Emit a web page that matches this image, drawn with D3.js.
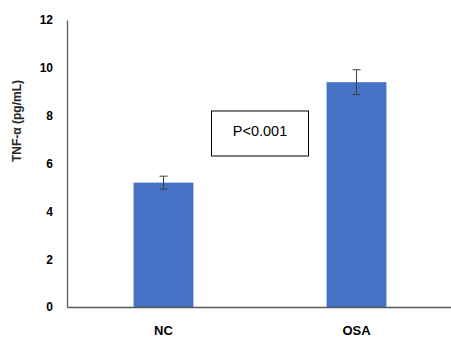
<!DOCTYPE html>
<html>
<head>
<meta charset="utf-8">
<script src="https://cdn.jsdelivr.net/npm/d3@7"></script>
<style>
  body { margin: 0; background: #fff; }
  svg { display: block; }
</style>
</head>
<body>
<div id="contenedor"></div>
<script>
// datos
var grupos = ["NC", "OSA"]
var medias = [5.2, 9.4]
var errores = [0.27, 0.52]
var ticksY = [0, 2, 4, 6, 8, 10, 12]
var textoP = "P<0.001"

var ancho = 451
var alto = 338

var svg = d3.select("#contenedor")
    .append("svg")
    .attr("width", ancho)
    .attr("height", alto)

var datos = grupos.map(function(g, i) {
    return { grupo: g, media: medias[i], error: errores[i] }
})

// escalas
var x = d3.scaleBand()
    .domain(grupos)
    .range([67, 453])
    .paddingInner(0.69)
    .paddingOuter(0.345)

var y = d3.scaleLinear()
    .domain([0, 12])
    .range([307, 20])

// barras
svg.selectAll("rect.barra")
    .data(datos)
    .enter()
    .append("rect")
    .attr("class", "barra")
    .attr("x", function(d) { return x(d.grupo) })
    .attr("width", x.bandwidth())
    .attr("y", function(d) { return y(d.media) })
    .attr("height", function(d) { return y(0) - y(d.media) })
    .attr("fill", "#4472c4")

// barras de error
var err = svg.selectAll("g.error")
    .data(datos)
    .enter()
    .append("g")
    .attr("class", "error")
    .attr("stroke", "#404040")
    .attr("stroke-width", 1)

err.append("line")
    .attr("x1", function(d) { return x(d.grupo) + x.bandwidth() / 2 })
    .attr("x2", function(d) { return x(d.grupo) + x.bandwidth() / 2 })
    .attr("y1", function(d) { return y(d.media + d.error) })
    .attr("y2", function(d) { return y(d.media - d.error) })

err.append("line")
    .attr("x1", function(d) { return x(d.grupo) + x.bandwidth() / 2 - 4 })
    .attr("x2", function(d) { return x(d.grupo) + x.bandwidth() / 2 + 4 })
    .attr("y1", function(d) { return y(d.media + d.error) })
    .attr("y2", function(d) { return y(d.media + d.error) })

err.append("line")
    .attr("x1", function(d) { return x(d.grupo) + x.bandwidth() / 2 - 4 })
    .attr("x2", function(d) { return x(d.grupo) + x.bandwidth() / 2 + 4 })
    .attr("y1", function(d) { return y(d.media - d.error) })
    .attr("y2", function(d) { return y(d.media - d.error) })

// eje Y
var ejeY = d3.axisLeft(y)
    .tickValues(ticksY)
    .tickSize(0)
    .tickPadding(14)

var gy = svg.append("g")
    .attr("transform", "translate(67,0)")
    .call(ejeY)
gy.select(".domain").attr("stroke", "#595959").attr("stroke-width", 1.3)
gy.selectAll("text")
    .attr("font-family", "'Liberation Sans', Arial, sans-serif")
    .attr("font-size", 12)
    .attr("font-weight", "bold")
    .attr("fill", "#000")

// eje X
var ejeX = d3.axisBottom(x)
    .tickSize(0)
    .tickPadding(19)

var gx = svg.append("g")
    .attr("transform", "translate(0,307)")
    .call(ejeX)
gx.select(".domain").attr("stroke", "#595959").attr("stroke-width", 1.3)
gx.selectAll("text")
    .attr("font-family", "'Liberation Sans', Arial, sans-serif")
    .attr("font-size", 13)
    .attr("font-weight", "bold")
    .attr("fill", "#000")

// titulo eje Y
svg.append("text")
    .attr("transform", "translate(21,121) rotate(-90)")
    .attr("text-anchor", "middle")
    .attr("font-family", "'Liberation Sans', Arial, sans-serif")
    .attr("font-size", 12)
    .attr("font-weight", "bold")
    .attr("fill", "#262626")
    .text("TNF-α (pg/mL)")

// caja P
var cx = (x("NC") + x("OSA") + x.bandwidth()) / 2
svg.append("rect")
    .attr("x", cx - 48.5)
    .attr("y", 111)
    .attr("width", 97)
    .attr("height", 45)
    .attr("fill", "#fff")
    .attr("stroke", "#000")
    .attr("stroke-width", 1)

svg.append("text")
    .attr("x", cx)
    .attr("y", 130.5)
    .attr("dy", "0.35em")
    .attr("text-anchor", "middle")
    .attr("font-family", "'Liberation Sans', Arial, sans-serif")
    .attr("font-size", 14.5)
    .attr("fill", "#000")
    .text(textoP)
</script>
</body>
</html>
